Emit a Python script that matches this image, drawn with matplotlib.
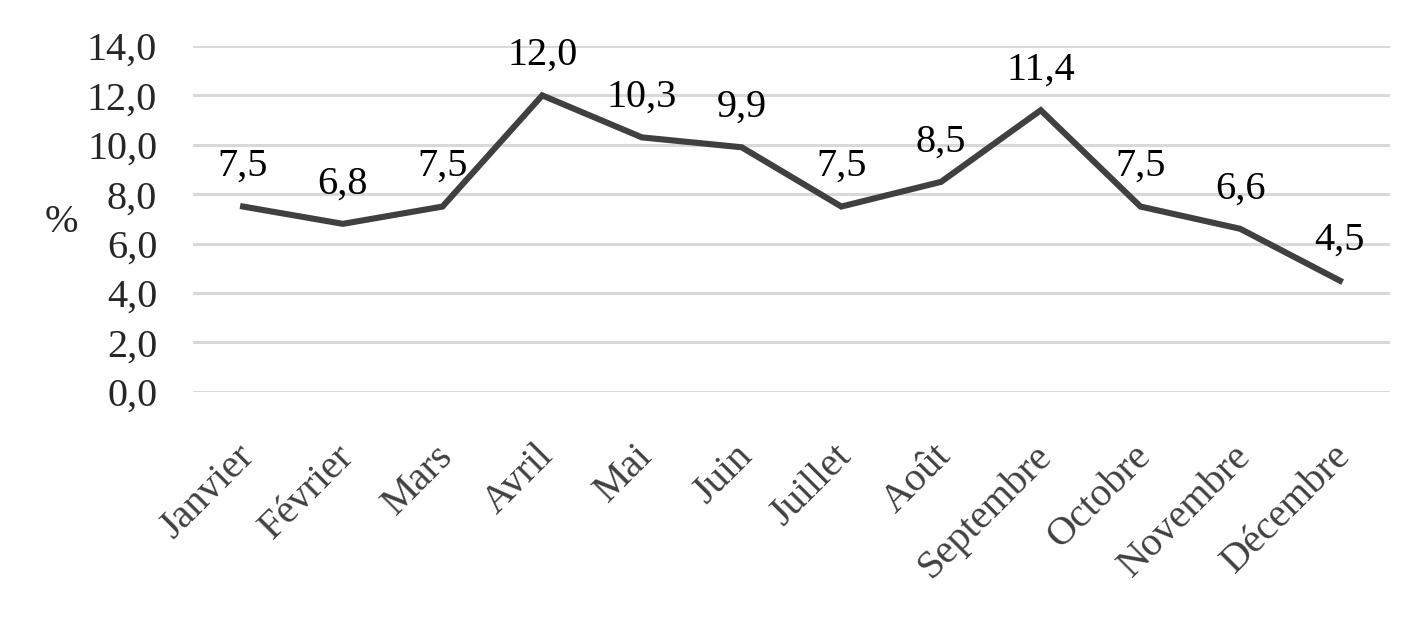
import matplotlib
matplotlib.use("Agg")
import matplotlib.pyplot as plt
from matplotlib.transforms import ScaledTranslation

months = ["Janvier", "Février", "Mars", "Avril", "Mai", "Juin", "Juillet",
          "Août", "Septembre", "Octobre", "Novembre", "Décembre"]
values = [7.5, 6.8, 7.5, 12.0, 10.3, 9.9, 7.5, 8.5, 11.4, 7.5, 6.6, 4.5]
yticks = [0, 2, 4, 6, 8, 10, 12, 14]

plt.rcParams['font.family'] = ['Liberation Serif', 'DejaVu Serif']
FS = 29

fig = plt.figure(figsize=(14.21, 6.19), dpi=100)
ax = fig.add_axes([0.136, 0.367, 0.842, 0.5587])

x = list(range(len(months)))
ax.plot(x, values, color="#404040", linewidth=4.4, solid_joinstyle="miter", zorder=3)
for xi, v in zip(x, values):
    ax.annotate(f"{v:.1f}".replace(".", ","), (xi, v), xytext=(0, 22),
                textcoords="offset points", ha="center", va="baseline",
                fontsize=FS, color="black")

ax.set_xlim(-0.5, len(months) - 0.5)
ax.set_ylim(0, 14)
ax.set_yticks(yticks)
ax.set_yticklabels([f"{t:.1f}".replace(".", ",") for t in yticks], fontsize=FS, color="#262626")
ax.yaxis.grid(True, color="#d9d9d9", linewidth=2.2)
ax.set_axisbelow(True)
ax.set_xticks(x)
ax.set_xticklabels(months, rotation=45, ha="right", va="top", rotation_mode="anchor",
                   fontsize=FS, color="#404040")
ax.tick_params(axis="both", length=0)
ax.tick_params(axis="y", pad=26)
ax.tick_params(axis="x", pad=33)
off = ScaledTranslation(-0.08, 0, fig.dpi_scale_trans)
for lab in ax.get_xticklabels():
    lab.set_transform(lab.get_transform() + off)
for s in ax.spines.values():
    s.set_visible(False)

fig.text(61 / 1421, 1 - 222 / 619, "%", fontsize=FS, color="#262626",
         ha="center", va="center")

fig.savefig("out.png", dpi=100)
